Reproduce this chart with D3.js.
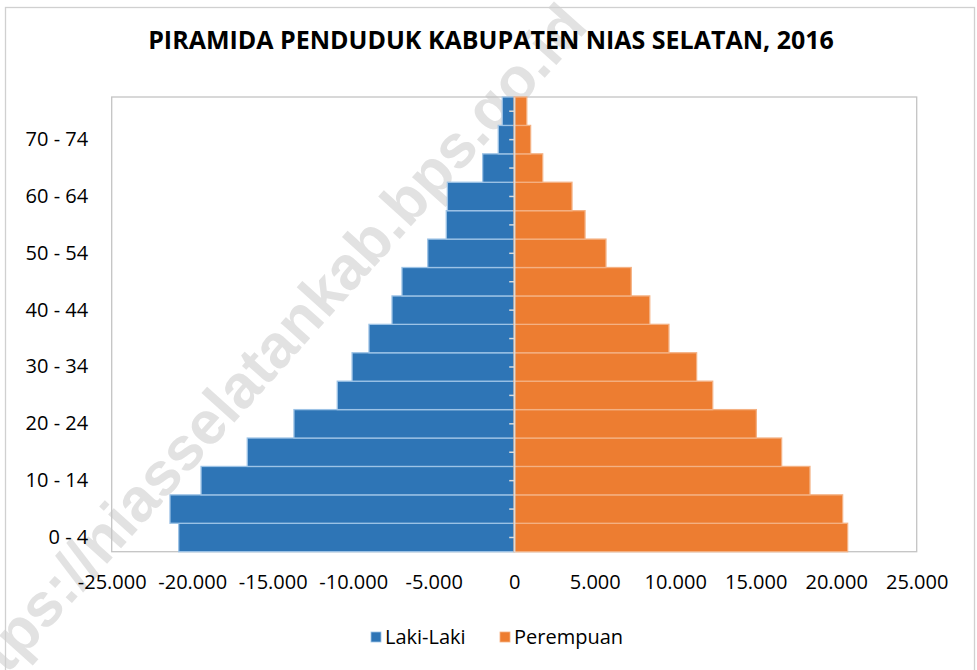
<!DOCTYPE html>
<html>
<head>
<meta charset="utf-8">
<script src="https://cdn.jsdelivr.net/npm/d3@7"></script>
<style>
  body { margin: 0; background: #fff; }
  svg { display: block; font-family: "Open Sans", sans-serif; }
  .tick text { fill: #000; font-size: 20px; }
</style>
</head>
<body>
<script>
// age groups from bottom to top
var ageGroups = ["0 - 4","5 - 9","10 - 14","15 - 19","20 - 24","25 - 29","30 - 34","35 - 39",
                 "40 - 44","45 - 49","50 - 54","55 - 59","60 - 64","65 - 69","70 - 74","75+"];
var lakiLaki  = [20840,21380,19450,16580,13680,10990,10070,9020,7590,6970,5370,4220,4150,1960,990,740];
var perempuan = [20710,20400,18370,16610,15040,12330,11330,9610,8420,7270,5700,4400,3590,1770,1020,780];
var xTicks = [-25000,-20000,-15000,-10000,-5000,0,5000,10000,15000,20000,25000];
var yLabels = ["0 - 4","10 - 14","20 - 24","30 - 34","40 - 44","50 - 54","60 - 64","70 - 74"];
var seriesNames = ["Laki-Laki","Perempuan"];
var colors = ["#2e75b6","#ed7d31"],
    strokes = ["#9dc3e6","#f4b183"];

var width = 977, height = 670;
var pLeft = 111.7, pRight = 916.7, pTop = 97, pBottom = 551.7;

var svg = d3.select("body").append("svg")
    .attr("width", width)
    .attr("height", height);

// watermark (sits behind everything)
svg.append("text")
    .attr("transform", "translate(279,373) rotate(-48)")
    .attr("text-anchor", "middle")
    .style("font-family", "'Liberation Sans', Arial, sans-serif")
    .style("font-weight", "bold")
    .style("font-size", "61px")
    .style("fill", "#e2e2e2")
    .text("https://niasselatankab.bps.go.id");

// outer chart border
svg.append("rect")
    .attr("x", 5.5).attr("y", 7.5)
    .attr("width", 969).attr("height", 700)
    .attr("fill", "none")
    .attr("stroke", "#d0d0d0")
    .attr("stroke-width", 1.3);

svg.append("text")
    .attr("x", 491).attr("y", 49)
    .attr("text-anchor", "middle")
    .style("font-weight", "bold")
    .style("font-size", "25px")
    .text("PIRAMIDA PENDUDUK KABUPATEN NIAS SELATAN, 2016");

var x = d3.scaleLinear().domain([-25000, 25000]).range([pLeft, pRight]);
var y = d3.scaleBand().domain(ageGroups.slice().reverse()).range([pTop, pBottom]).padding(0);

var idLocale = d3.formatLocale({decimal: ",", thousands: ".", grouping: [3], currency: ["", ""], minus: "-"});
var fmt = idLocale.format(",");

// plot frame
svg.append("rect")
    .attr("x", pLeft).attr("y", pTop)
    .attr("width", pRight - pLeft).attr("height", pBottom - pTop)
    .attr("fill", "none")
    .attr("stroke", "#c4c4c4")
    .attr("stroke-width", 1.3);

var rows = ageGroups.map(function(g, i){ return {age: g, m: lakiLaki[i], f: perempuan[i]}; });

svg.append("g").selectAll("rect")
    .data(rows).enter()
    .append("rect")
    .attr("x", function(d){ return x(-d.m); })
    .attr("y", function(d){ return y(d.age); })
    .attr("width", function(d){ return x(0) - x(-d.m); })
    .attr("height", y.bandwidth())
    .attr("fill", colors[0])
    .attr("stroke", strokes[0])
    .attr("stroke-width", 1.3);

svg.append("g").selectAll("rect")
    .data(rows).enter()
    .append("rect")
    .attr("x", x(0))
    .attr("y", function(d){ return y(d.age); })
    .attr("width", function(d){ return x(d.f) - x(0); })
    .attr("height", y.bandwidth())
    .attr("fill", colors[1])
    .attr("stroke", strokes[1])
    .attr("stroke-width", 1.3);

// zero axis with small ticks
var zeroAxis = svg.append("g")
    .attr("transform", "translate(" + x(0) + ",0)")
    .call(d3.axisLeft(y).tickSize(5).tickSizeOuter(0).tickFormat(""));
zeroAxis.selectAll("path, line").attr("stroke", "#d9d9d9").attr("stroke-width", 1.5);

// category labels
var yAxis = svg.append("g")
    .attr("transform", "translate(" + pLeft + ",0)")
    .call(d3.axisLeft(y).tickValues(yLabels).tickSize(0).tickPadding(23.5));
yAxis.select(".domain").remove();
yAxis.selectAll("text").style("font-family", "'Open Sans', sans-serif");

var xAxis = svg.append("g")
    .attr("transform", "translate(0," + pBottom + ")")
    .call(d3.axisBottom(x).tickValues(xTicks).tickSize(0).tickPadding(23).tickFormat(fmt));
xAxis.select(".domain").remove();
xAxis.selectAll("text").style("font-family", "'Open Sans', sans-serif");

// legend
var legend = svg.append("g").attr("transform", "translate(371,637)");
var lx = [0, 129];
seriesNames.forEach(function(name, i){
    legend.append("rect")
        .attr("x", lx[i]).attr("y", -5)
        .attr("width", 10).attr("height", 10)
        .attr("fill", colors[i])
        .attr("stroke", strokes[i])
        .attr("stroke-width", 0.8);
    legend.append("text")
        .attr("x", lx[i] + 14).attr("y", 7)
        .style("font-size", "20px")
        .text(name);
});
</script>
</body>
</html>
